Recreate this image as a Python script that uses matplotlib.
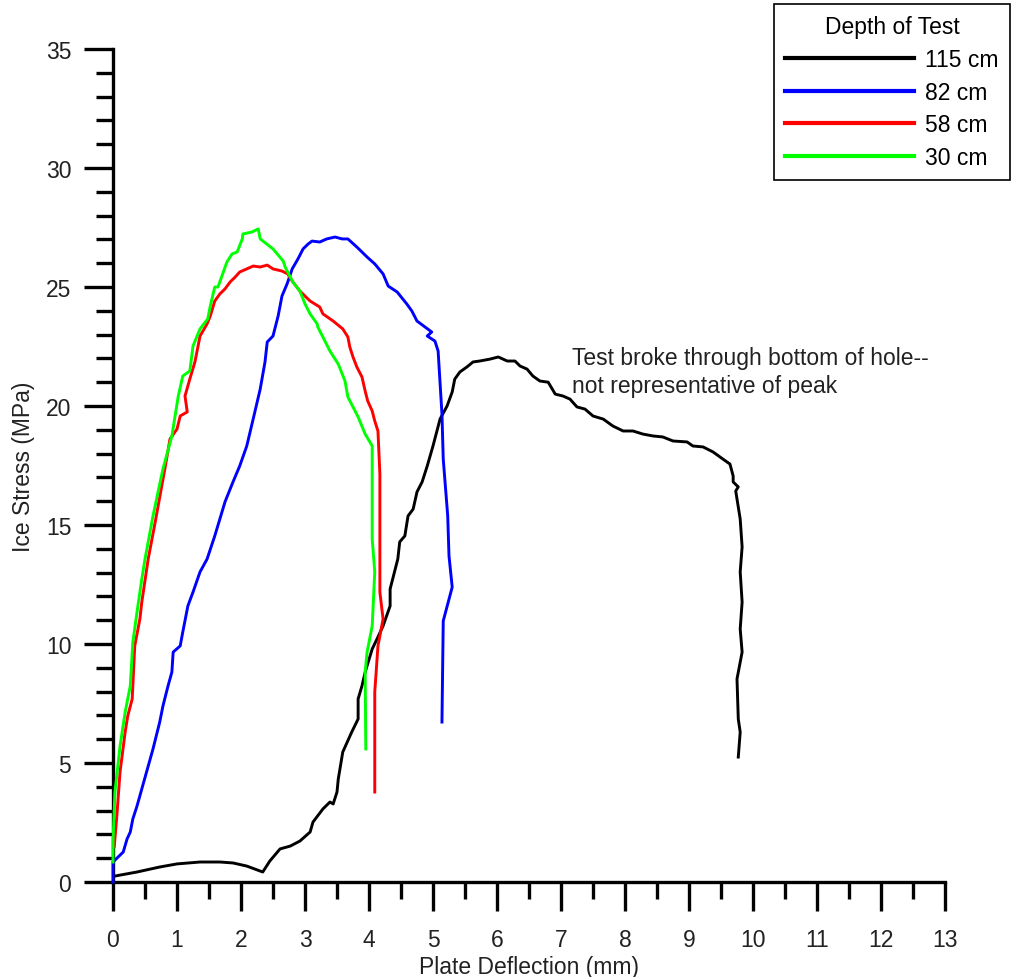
import matplotlib
matplotlib.use('Agg')
import matplotlib.pyplot as plt
from matplotlib.ticker import MultipleLocator

plt.rcParams['font.family'] = ['Liberation Sans', 'DejaVu Sans']

# plate deflection (mm) / ice stress (MPa)
x_115 = [0.03, 0.375, 0.73, 1.0, 1.36, 1.67, 1.875, 2.09, 2.30, 2.34,
         2.45, 2.61, 2.77, 2.92, 3.08, 3.125, 3.28, 3.39, 3.44, 3.5,
         3.52, 3.59, 3.73, 3.83, 3.83, 3.89, 3.94, 4.05, 4.125, 4.22,
         4.33, 4.33, 4.41, 4.45, 4.48, 4.56, 4.61, 4.69, 4.75, 4.83,
         4.91, 5.0, 5.11, 5.22, 5.30, 5.34, 5.42, 5.53, 5.625, 5.73,
         5.89, 6.02, 6.16, 6.28, 6.36, 6.47, 6.56, 6.67, 6.80, 6.91,
         7.03, 7.14, 7.25, 7.375, 7.5, 7.66, 7.81, 7.97, 8.125, 8.28,
         8.44, 8.59, 8.75, 8.97, 9.06, 9.22, 9.375, 9.53, 9.64, 9.69,
         9.69, 9.77, 9.73, 9.80, 9.83, 9.80, 9.83, 9.80, 9.83, 9.75,
         9.77, 9.80, 9.77]
y_115 = [0.25, 0.42, 0.63, 0.76, 0.84, 0.84, 0.8, 0.67, 0.46, 0.42,
         0.88, 1.39, 1.51, 1.72, 2.1, 2.52, 3.07, 3.36, 3.28, 3.78,
         4.33, 5.46, 6.30, 6.85, 7.69, 8.24, 8.82, 9.79, 10.21, 10.76,
         11.6, 12.31, 13.15, 13.57, 14.29, 14.54, 15.38, 15.67, 16.39, 16.81,
         17.48, 18.32, 19.45, 20.0, 20.59, 21.13, 21.43, 21.64, 21.85, 21.89,
         21.97, 22.06, 21.89, 21.89, 21.68, 21.55, 21.26, 21.05, 21.0, 20.5,
         20.42, 20.29, 19.96, 19.87, 19.58, 19.45, 19.16, 18.95, 18.95, 18.82,
         18.74, 18.7, 18.53, 18.49, 18.32, 18.28, 18.07, 17.77, 17.56, 17.06,
         16.81, 16.6, 16.43, 15.25, 14.08, 13.03, 11.76, 10.63, 9.66, 8.53,
         6.85, 6.30, 5.25]

x_82 = [0, 0, 0.16, 0.22, 0.27, 0.31, 0.375, 0.45, 0.55, 0.625,
        0.73, 0.78, 0.86, 0.92, 0.94, 1.05, 1.09, 1.17, 1.25, 1.36,
        1.47, 1.59, 1.75, 1.875, 1.98, 2.09, 2.19, 2.30, 2.375, 2.41,
        2.5, 2.58, 2.64, 2.72, 2.80, 2.89, 2.97, 3.05, 3.11, 3.23,
        3.34, 3.47, 3.58, 3.67, 3.81, 3.97, 4.09, 4.22, 4.30, 4.44,
        4.59, 4.67, 4.75, 4.875, 4.98, 4.91, 5.03, 5.08, 5.14, 5.16,
        5.23, 5.25, 5.30, 5.16, 5.14]
y_82 = [0, 0.84, 1.26, 1.81, 2.1, 2.65, 3.19, 3.91, 4.87, 5.59,
        6.72, 7.39, 8.24, 8.82, 9.66, 9.92, 10.5, 11.6, 12.18, 13.03,
        13.57, 14.54, 15.97, 16.81, 17.48, 18.32, 19.45, 20.71, 21.85, 22.69,
        22.94, 23.78, 24.62, 25.13, 25.76, 26.18, 26.6, 26.81, 26.93, 26.89,
        27.02, 27.1, 27.02, 27.02, 26.68, 26.26, 25.97, 25.55, 25.04, 24.79,
        24.29, 23.99, 23.57, 23.32, 23.11, 22.94, 22.73, 22.31, 19.66, 17.77,
        15.38, 13.7, 12.39, 10.97, 6.72]

x_58 = [0.02, 0.06, 0.11, 0.19, 0.23, 0.30, 0.31, 0.34, 0.42, 0.45,
        0.55, 0.66, 0.81, 0.89, 1.0, 1.05, 1.16, 1.125, 1.2, 1.28,
        1.36, 1.47, 1.52, 1.59, 1.67, 1.75, 1.83, 1.91, 1.98, 2.09,
        2.19, 2.30, 2.41, 2.5, 2.64, 2.73, 2.80, 2.92, 3.08, 3.23,
        3.28, 3.44, 3.59, 3.67, 3.70, 3.75, 3.81, 3.89, 3.94, 3.98,
        4.05, 4.09, 4.14, 4.17, 4.17, 4.22, 4.14, 4.09, 4.09]
y_58 = [1.5, 2.77, 4.62, 6.30, 6.97, 7.69, 8.24, 9.92, 11.05, 11.76,
        13.57, 15.13, 17.35, 18.61, 19.03, 19.58, 19.75, 20.42, 21.13, 21.85,
        22.94, 23.45, 23.78, 24.41, 24.71, 24.92, 25.21, 25.42, 25.63, 25.76,
        25.88, 25.84, 25.92, 25.76, 25.67, 25.55, 25.25, 24.83, 24.41, 24.16,
        23.87, 23.57, 23.24, 22.9, 22.48, 22.06, 21.64, 21.22, 20.63, 20.21,
        19.79, 19.37, 18.95, 17.14, 12.18, 11.05, 9.92, 7.98, 3.78]

x_30 = [0, 0, 0.03, 0.11, 0.19, 0.27, 0.31, 0.375, 0.45, 0.5,
        0.625, 0.78, 0.92, 1.02, 1.09, 1.2, 1.25, 1.36, 1.48, 1.52,
        1.59, 1.64, 1.78, 1.86, 1.94, 2.02, 2.03, 2.17, 2.27, 2.30,
        2.5, 2.66, 2.69, 2.81, 2.92, 3.0, 3.08, 3.19, 3.20, 3.39,
        3.52, 3.625, 3.67, 3.75, 3.83, 3.94, 4.05, 4.05, 4.09, 4.05,
        3.97, 3.94, 3.95]
y_30 = [0.84, 1.68, 3.78, 5.71, 7.14, 8.24, 10.08, 11.34, 12.73, 13.57,
        15.38, 17.35, 18.74, 20.42, 21.26, 21.47, 22.52, 23.24, 23.66, 24.2,
        25.0, 25.0, 26.05, 26.39, 26.47, 27.02, 27.23, 27.31, 27.44, 27.02,
        26.6, 26.09, 25.84, 25.21, 24.83, 24.29, 23.87, 23.45, 23.32, 22.31,
        21.76, 21.05, 20.38, 19.96, 19.54, 18.82, 18.32, 14.41, 13.03, 10.76,
        9.66, 8.82, 5.59]

series = [
    (x_115, y_115, 'black', '115 cm'),
    (x_82, y_82, '#0000ff', '82 cm'),
    (x_58, y_58, '#ff0000', '58 cm'),
    (x_30, y_30, '#00ff00', '30 cm'),
]

fs = 16.5

fig = plt.figure(figsize=(10.12, 9.78), dpi=100)
ax = fig.add_axes([113 / 1012, 95 / 978, 832 / 1012, 833 / 978])

for xs, ys, col, lab in series:
    ax.plot(xs, ys, color=col, lw=2.1, label=lab, clip_on=False, zorder=3)

ax.set_xlim(0, 13)
ax.set_ylim(0, 35)
ax.xaxis.set_major_locator(MultipleLocator(1))
ax.xaxis.set_minor_locator(MultipleLocator(0.5))
ax.yaxis.set_major_locator(MultipleLocator(5))
ax.yaxis.set_minor_locator(MultipleLocator(1))

for side in ['top', 'right']:
    ax.spines[side].set_visible(False)
for side in ['left', 'bottom']:
    ax.spines[side].set_linewidth(2.4)

ax.tick_params(axis='both', which='major', direction='out', length=21, width=2.4,
               labelsize=fs, labelcolor='#222222')
ax.tick_params(axis='both', which='minor', direction='out', length=12, width=2.4)
ax.tick_params(axis='y', which='major', pad=9)
ax.tick_params(axis='x', which='major', pad=12)

ax.set_xlabel('Plate Deflection (mm)', fontsize=fs, color='#222222', labelpad=3)
ax.set_ylabel('Ice Stress (MPa)', fontsize=fs, color='#222222', labelpad=8)

ax.text(7.17, 22.5, 'Test broke through bottom of hole--\nnot representative of peak',
        fontsize=fs, color='#222222', va='top', ha='left', linespacing=1.25)

leg = ax.legend(title='Depth of Test', loc='upper right',
                bbox_to_anchor=(1010 / 1012, 973 / 978), bbox_transform=fig.transFigure,
                fontsize=fs, title_fontsize=fs, handlelength=5.6, handletextpad=0.5,
                labelspacing=0.42, borderpad=0.5, borderaxespad=0, fancybox=False,
                edgecolor='black', framealpha=1)
leg.get_frame().set_linewidth(1.2)
for line in leg.get_lines():
    line.set_linewidth(3)

fig.savefig('out.png', dpi=100)
